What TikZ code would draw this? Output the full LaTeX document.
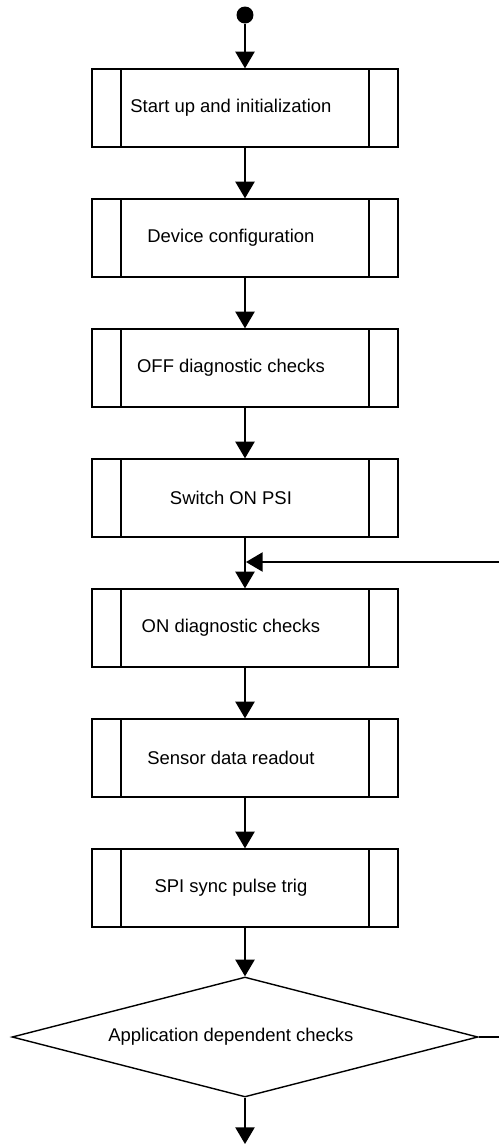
\documentclass[tikz,border=0pt]{standalone}
\usepackage{fontspec}
\setmainfont{Liberation Sans}
\usetikzlibrary{arrows.meta}
\usetikzlibrary{shapes.geometric}
\tikzset{flow/.style={-{Triangle[length=9.5pt,width=11pt]}},
  subproc/.style={draw, rectangle, minimum width=6.12cm, minimum height=1.56cm, inner sep=0pt,
    path picture={
      \draw ([xshift=0.58cm]path picture bounding box.north west) -- ([xshift=0.58cm]path picture bounding box.south west);
      \draw ([xshift=-0.58cm]path picture bounding box.north east) -- ([xshift=-0.58cm]path picture bounding box.south east);}},
  decision/.style={draw, diamond, minimum width=9.32cm, minimum height=2.4cm, inner sep=0pt},
  txt/.style={font=\fontsize{10.5}{12}\selectfont, xshift=-8pt}}

\begin{document}
\begin{tikzpicture}[x=0.02cm, y=-0.02cm, line width=0.8pt]
    \useasboundingbox (0,0) rectangle (499,1144);

    \node[circle, fill=black, inner sep=0pt, minimum size=0.34cm] (start) at (245,15) {};
    \node[subproc, label={[txt]center:Start up and initialization}] (init) at (245,108) {};
    \node[subproc, label={[txt]center:Device configuration}] (config) at (245,238) {};
    \node[subproc, label={[txt]center:OFF diagnostic checks}] (offdiag) at (245,368) {};
    \node[subproc, label={[txt]center:Switch ON PSI}] (psi) at (245,498) {};
    \node[subproc, label={[txt]center:ON diagnostic checks}] (ondiag) at (245,628) {};
    \node[subproc, label={[txt]center:Sensor data readout}] (readout) at (245,758) {};
    \node[subproc, label={[txt]center:SPI sync pulse trig}] (sync) at (245,888) {};
    \node[decision, label={[txt]center:Application dependent checks}] (appcheck) at (245,1037) {};

    \coordinate (loopin) at (499,562);
    \coordinate (join) at (246,562);
    \coordinate (loopout) at (499,1037);
    \coordinate (stop) at (245,1144);

    \draw[flow] (start) -- (init);
    \draw[flow] (init) -- (config);
    \draw[flow] (config) -- (offdiag);
    \draw[flow] (offdiag) -- (psi);
    \draw[flow] (psi) -- (ondiag);
    \draw[flow] (ondiag) -- (readout);
    \draw[flow] (readout) -- (sync);
    \draw[flow] (sync) -- (appcheck);
    \draw[flow] (appcheck) -- (stop);
    \draw (appcheck.east) -- (loopout);
    \draw[flow] (loopin) -- (join);

\end{tikzpicture}
\end{document}
